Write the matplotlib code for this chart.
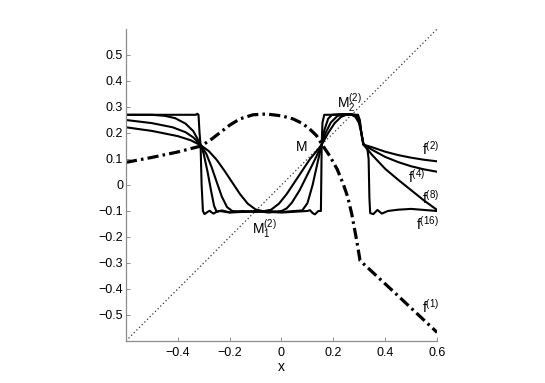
import numpy as np
import matplotlib
matplotlib.use("Agg")
import matplotlib.pyplot as plt

plt.rcParams['font.family'] = ['Liberation Sans', 'DejaVu Sans']
plt.rcParams['mathtext.fontset'] = 'custom'
plt.rcParams['mathtext.rm'] = 'Liberation Sans'
plt.rcParams['mathtext.it'] = 'Liberation Sans'
plt.rcParams['font.size'] = 9

# f^(1): the map itself (dash-dot)
x1 = [-0.6, -0.5, -0.4, -0.31, -0.27, -0.239, -0.2, -0.161, -0.11, -0.058, 0.0, 0.045,
      0.08, 0.109, 0.135, 0.155, 0.187, 0.215, 0.238, 0.255, 0.271, 0.29, 0.303, 0.432, 0.6]
y1 = [0.087, 0.106, 0.127, 0.15, 0.176, 0.2, 0.23, 0.254, 0.27, 0.273, 0.266, 0.254,
      0.237, 0.215, 0.19, 0.158, 0.11, 0.06, 0.004, -0.045, -0.112, -0.214, -0.291, -0.41, -0.567]

# f^(2)
x2 = [-0.6, -0.5, -0.4, -0.35, -0.31, -0.28, -0.25, -0.22, -0.19, -0.16, -0.13, -0.10,
      -0.07, -0.04, -0.01, 0.02, 0.05, 0.08, 0.11, 0.135, 0.155, 0.18, 0.205, 0.23, 0.25,
      0.27, 0.285, 0.298, 0.308, 0.316, 0.35, 0.4, 0.45, 0.5, 0.55, 0.6]
y2 = [0.222, 0.208, 0.188, 0.172, 0.152, 0.13, 0.097, 0.055, 0.01, -0.035, -0.072, -0.094,
      -0.101, -0.095, -0.072, -0.035, 0.01, 0.055, 0.1, 0.13, 0.155, 0.2, 0.238, 0.262, 0.27,
      0.27, 0.262, 0.24, 0.2, 0.155, 0.145, 0.128, 0.115, 0.105, 0.097, 0.091]

# f^(4)
x4 = [-0.6, -0.5, -0.42, -0.37, -0.34, -0.31, -0.29, -0.27, -0.25, -0.23, -0.21, -0.19,
      -0.15, -0.1, -0.05, 0.0, 0.02, 0.04, 0.07, 0.1, 0.13, 0.155, 0.17, 0.19, 0.215, 0.24,
      0.27, 0.29, 0.302, 0.31, 0.316, 0.35, 0.4, 0.45, 0.5, 0.55, 0.6]
y4 = [0.25, 0.238, 0.222, 0.203, 0.183, 0.152, 0.12, 0.07, 0.012, -0.045, -0.085, -0.1,
      -0.104, -0.1, -0.106, -0.1, -0.09, -0.068, -0.02, 0.04, 0.1, 0.155, 0.2, 0.24, 0.265, 0.272,
      0.272, 0.265, 0.24, 0.19, 0.155, 0.135, 0.108, 0.088, 0.072, 0.06, 0.051]

# f^(8)
x8 = [-0.6, -0.5, -0.45, -0.41, -0.37, -0.34, -0.31, -0.3, -0.285, -0.27, -0.26, -0.25,
      -0.23, -0.2, -0.15, -0.1, -0.05, 0.0, 0.05, 0.08, 0.1, 0.12, 0.14, 0.155, 0.165, 0.18,
      0.195, 0.22, 0.26, 0.29, 0.3, 0.31, 0.316, 0.35, 0.4, 0.45, 0.5, 0.55, 0.6]
y8 = [0.27, 0.27, 0.266, 0.257, 0.236, 0.207, 0.152, 0.12, 0.05, -0.03, -0.08, -0.103,
      -0.098, -0.105, -0.1, -0.104, -0.1, -0.104, -0.1, -0.098, -0.07, 0.0, 0.09, 0.155, 0.21, 0.255,
      0.27, 0.272, 0.272, 0.268, 0.25, 0.185, 0.155, 0.115, 0.062, 0.02, -0.02, -0.06, -0.096]

# f^(16)
x16 = [-0.6, -0.4, -0.33, -0.325, -0.32, -0.316, -0.312, -0.308, -0.303, -0.297, -0.287,
       -0.277, -0.27, -0.262, -0.25, -0.239, -0.2, -0.1, 0.0, 0.1, 0.11, 0.12, 0.129, 0.142,
       0.152, 0.155, 0.158, 0.165, 0.2, 0.25, 0.295, 0.302, 0.308, 0.316, 0.33, 0.336, 0.339,
       0.342, 0.354, 0.37, 0.387, 0.41, 0.45, 0.5, 0.55, 0.6]
y16 = [0.27, 0.27, 0.27, 0.274, 0.27, 0.2, 0.152, 0.0, -0.1, -0.112, -0.105,
       -0.099, -0.105, -0.11, -0.103, -0.1, -0.106, -0.101, -0.106, -0.1, -0.097, -0.108, -0.113, -0.1,
       -0.1, 0.155, 0.24, 0.27, 0.27, 0.272, 0.27, 0.25, 0.2, 0.158, 0.148, 0.1, -0.05,
       -0.108, -0.112, -0.096, -0.11, -0.1, -0.095, -0.092, -0.096, -0.1]

diag = [-0.6, 0.6]

fig = plt.figure(figsize=(5.45, 3.83), dpi=100)
ax = fig.add_axes([0.231, 0.1097, 0.571, 0.8146])

ax.plot(diag, diag, color='#333333', lw=0.9, linestyle=(0, (1, 2)))
for xs, ys in [(x2, y2), (x4, y4), (x8, y8), (x16, y16)]:
    ax.plot(xs, ys, color='black', lw=1.5)
ax.plot(x1, y1, color='black', lw=2.3, linestyle=(0, (3.5, 1.3, 0.8, 1.3)))

# labels on curves
ax.text(0.075, 0.147, r'$\mathrm{M}$', ha='center', va='center', fontsize=10)
ax.text(0.264, 0.313, r'$\mathrm{M}_2^{(2)}$', ha='center', va='center', fontsize=10)
ax.text(-0.065, -0.17, r'$\mathrm{M}_1^{(2)}$', ha='center', va='center', fontsize=10)
ax.text(0.574, 0.14, r'$\mathrm{f}^{(2)}$', ha='center', va='center', fontsize=10)
ax.text(0.523, 0.032, r'$\mathrm{f}^{(4)}$', ha='center', va='center', fontsize=10)
ax.text(0.574, -0.05, r'$\mathrm{f}^{(8)}$', ha='center', va='center', fontsize=10)
ax.text(0.562, -0.149, r'$\mathrm{f}^{(16)}$', ha='center', va='center', fontsize=10)
ax.text(0.574, -0.468, r'$\mathrm{f}^{(1)}$', ha='center', va='center', fontsize=10)

ax.set_xlim(-0.6, 0.6)
ax.set_ylim(-0.6, 0.6)
ax.set_xticks([-0.4, -0.2, 0, 0.2, 0.4, 0.6])
ax.set_xticklabels(['\u22120.4', '\u22120.2', '0', '0.2', '0.4', '0.6'])
ax.set_yticks([-0.5, -0.4, -0.3, -0.2, -0.1, 0, 0.1, 0.2, 0.3, 0.4, 0.5])
ax.set_yticklabels(['\u22120.5', '\u22120.4', '\u22120.3', '\u22120.2', '\u22120.1', '0',
                    '0.1', '0.2', '0.3', '0.4', '0.5'])
ax.set_xlabel('x', fontsize=10, labelpad=1)

for s in ['top', 'right']:
    ax.spines[s].set_visible(False)
for s in ['left', 'bottom']:
    ax.spines[s].set_color('#8c8c8c')
    ax.spines[s].set_linewidth(0.9)
ax.tick_params(direction='in', length=3, width=0.7, color='#8c8c8c', labelsize=9)
ax.tick_params(axis='y', pad=2)
ax.tick_params(axis='x', pad=4)

plt.savefig('out.png', dpi=100)
